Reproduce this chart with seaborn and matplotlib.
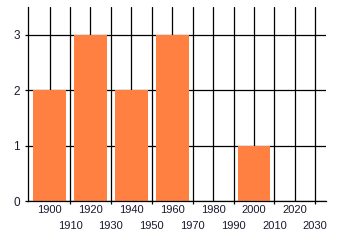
import matplotlib
matplotlib.use("Agg")
import matplotlib.pyplot as plt
import seaborn as sns

years = [1900, 1920, 1940, 1960, 2000]
counts = [2, 3, 2, 3, 1]
major_ticks = [1900, 1920, 1940, 1960, 1980, 2000, 2020]
minor_ticks = [1910, 1930, 1950, 1970, 1990, 2010, 2030]
y_ticks = [0, 1, 2, 3]

sns.set_theme(style="white")
plt.rcParams['font.family'] = ['Liberation Sans', 'DejaVu Sans']

fig = plt.figure(figsize=(3.4, 2.45), dpi=100)
ax = fig.add_axes([28.3/340, 44/245, (325.7-28.3)/340, (201-7.3)/245])

sns.barplot(x=years, y=counts, native_scale=True, width=0.8, color="#FF8040",
            saturation=1, edgecolor="none", linewidth=0, ax=ax)

ax.set_xlim(1889.6, 2035.1)
ax.set_ylim(0, 3.5)
ax.set_xticks(major_ticks)
ax.set_xticklabels([str(t) for t in major_ticks])
ax.set_xticks(minor_ticks, minor=True)
ax.set_xticklabels([str(t) for t in minor_ticks], minor=True)
ax.set_yticks(y_ticks)
ax.set_yticklabels([str(t) for t in y_ticks])

ax.set_axisbelow(True)
ax.grid(True, which="both", color="black", linewidth=0.9)
ax.tick_params(axis="x", which="major", length=0, pad=3.2, labelsize=8, colors="#1a1a2e")
ax.tick_params(axis="x", which="minor", length=2.5, width=0.9, color="black", pad=12.0,
               labelsize=8, labelcolor="#1a1a2e", bottom=True)
ax.tick_params(axis="y", length=2, width=0.9, color="black", pad=4, labelsize=8.5,
               labelcolor="#1a1a2e", left=True)

for s in ["top", "right"]:
    ax.spines[s].set_visible(False)
for s in ["left", "bottom"]:
    ax.spines[s].set_color("black")
    ax.spines[s].set_linewidth(0.9)

ax.set_xlabel("")
ax.set_ylabel("")
fig.savefig("out.png", dpi=100)
